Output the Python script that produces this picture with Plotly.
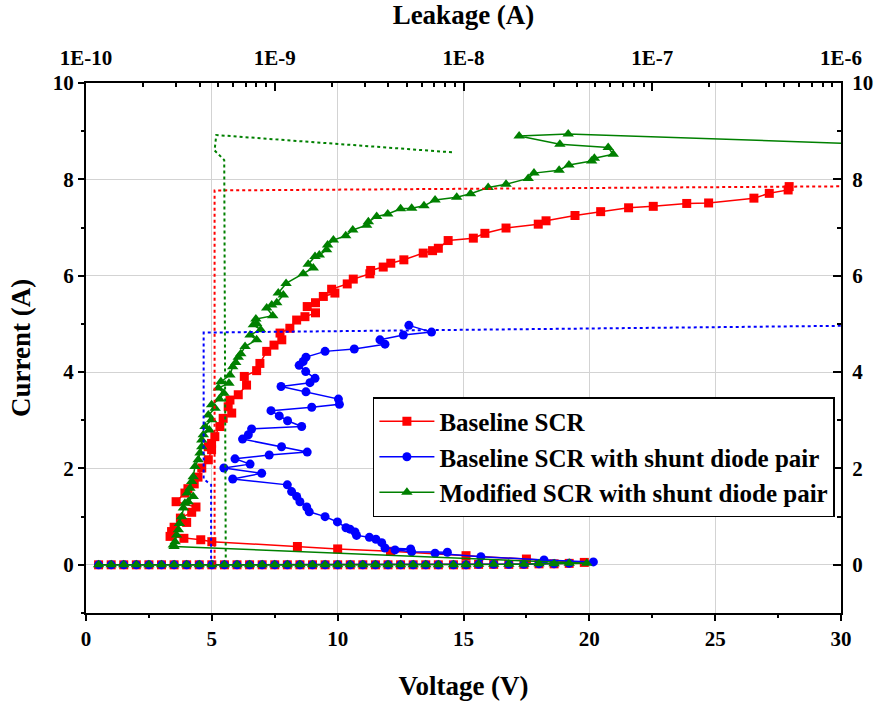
import plotly.graph_objects as go

# ---------------- data ----------------
# pulses before triggering (all three devices sit at ~0 A)
pre_trigger_v = [0.5, 1.0, 1.5, 2.0, 2.5, 3.0, 3.5, 4.0, 4.5, 5.0, 5.5, 6.0, 6.5, 7.0,
                 7.5, 8.0, 8.5, 9.0, 9.5, 10.0, 10.5, 11.0, 11.5, 12.0, 12.5, 13.0, 13.5,
                 14.0, 14.6, 15.1, 15.6, 16.2, 16.8, 17.4, 18.0, 18.6, 19.2]
pre_trigger_i = [0.0, 0.0, 0.0, 0.0, 0.0, 0.0, 0.0, 0.0, 0.0, 0.0, 0.0, 0.0, 0.0, 0.0,
                 0.0, 0.0, 0.0, 0.0, 0.0, 0.0, 0.0, 0.0, 0.0, 0.0, 0.0, 0.0, 0.0,
                 0.0, 0.0, 0.0, 0.01, 0.01, 0.01, 0.01, 0.02, 0.02, 0.03]

# Baseline SCR (after trigger)
red_v = [19.8, 17.5, 15.1, 12.1, 10.0, 8.4, 5.0, 4.56, 3.89, 3.34,
         3.40, 3.50, 4.00, 3.75, 4.20, 4.37, 3.58, 3.93, 4.05, 4.30,
         4.45, 4.60, 4.86, 4.99, 4.86, 4.99, 5.12, 5.32, 5.45, 5.79,
         5.65, 5.72, 6.05, 6.38, 6.29, 6.78, 6.91, 7.18, 7.47, 7.78,
         7.71, 8.10, 8.37, 8.70, 9.12, 8.79, 9.12, 9.43, 9.89, 9.76,
         10.38, 10.62, 11.28, 11.31, 11.81, 12.11, 12.63, 13.40, 13.77, 14.00,
         14.39, 15.39, 15.85, 16.69, 17.97, 18.28, 19.43, 20.45, 21.56, 22.54,
         23.87, 24.74, 26.54, 27.15, 27.90, 27.94]
red_i = [0.05, 0.12, 0.19, 0.28, 0.33, 0.38, 0.48, 0.52, 0.55, 0.59,
         0.69, 0.78, 0.88, 0.97, 1.09, 1.20, 1.31, 1.49, 1.58, 1.68,
         1.82, 2.01, 2.18, 2.39, 2.45, 2.52, 2.66, 2.87, 3.04, 3.15,
         3.28, 3.42, 3.53, 3.73, 3.91, 4.03, 4.18, 4.43, 4.56, 4.67,
         4.81, 4.91, 5.08, 5.15, 5.23, 5.36, 5.44, 5.57, 5.64, 5.72,
         5.83, 5.93, 6.04, 6.11, 6.18, 6.26, 6.33, 6.47, 6.52, 6.57,
         6.73, 6.78, 6.88, 6.99, 7.07, 7.14, 7.25, 7.33, 7.41, 7.44,
         7.50, 7.51, 7.61, 7.71, 7.78, 7.85]

# Baseline SCR with shunt diode pair (after trigger)
blue_v = [20.16, 18.2, 15.69, 13.87, 14.36, 12.94, 12.28, 12.90, 11.88, 11.75,
          11.52, 11.26, 10.75, 10.69, 10.49, 10.33, 9.99, 9.50, 8.87, 8.77,
          8.50, 8.37, 8.17, 8.00, 5.83, 6.98, 5.48, 6.52, 5.92, 7.28,
          8.79, 7.77, 6.22, 6.45, 6.58, 8.57, 8.01, 7.68, 7.35, 8.97,
          10.07, 10.03, 8.74, 7.75, 8.90, 9.10, 8.73, 8.47, 8.63, 8.74,
          9.50, 10.66, 11.88, 11.68, 12.61, 13.73, 12.83]
blue_i = [0.06, 0.10, 0.17, 0.24, 0.26, 0.27, 0.31, 0.33, 0.35, 0.46,
          0.53, 0.57, 0.61, 0.68, 0.74, 0.77, 0.89, 1.00, 1.10, 1.20,
          1.31, 1.42, 1.52, 1.66, 1.78, 1.90, 2.01, 2.09, 2.20, 2.28,
          2.34, 2.45, 2.61, 2.70, 2.82, 2.87, 2.99, 3.09, 3.20, 3.27,
          3.33, 3.44, 3.59, 3.70, 3.78, 3.87, 4.01, 4.14, 4.22, 4.31,
          4.43, 4.48, 4.58, 4.67, 4.77, 4.83, 4.97]

# Modified SCR with shunt diode pair (after trigger)
green_v = [19.9, 3.50, 3.47, 3.54, 3.60, 3.67, 3.71, 3.80, 3.87, 3.93,
           4.06, 4.26, 4.02, 4.13, 4.20, 4.26, 4.33, 4.46, 4.53, 4.60,
           4.60, 4.66, 4.90, 4.73, 4.99, 4.86, 5.13, 4.99, 5.30, 5.48,
           5.26, 5.68, 5.36, 5.72, 5.83, 5.95, 6.05, 6.15, 6.32, 6.78,
           6.52, 6.94, 6.65, 6.78, 6.75, 7.42, 7.18, 7.38, 7.58, 7.84,
           7.64, 7.95, 8.63, 9.03, 8.83, 9.10, 9.27, 9.56, 9.60, 9.83,
           10.32, 10.60, 11.15, 11.22, 11.55, 11.99, 12.50, 12.94, 13.43, 13.87,
           14.73, 15.28, 15.98, 16.69, 17.57, 17.80, 18.80, 19.19, 20.09, 20.20,
           20.95, 20.75, 18.83, 17.21, 19.16, 33.0]
green_i = [0.03, 0.38, 0.41, 0.48, 0.62, 0.73, 0.86, 1.00, 1.18, 1.28,
           1.31, 1.42, 1.49, 1.59, 1.73, 1.83, 2.04, 2.18, 2.32, 2.45,
           2.59, 2.70, 2.80, 2.87, 3.01, 3.11, 3.25, 3.32, 3.44, 3.56,
           3.67, 3.77, 3.80, 3.94, 4.11, 4.20, 4.31, 4.38, 4.53, 4.67,
           4.77, 4.88, 4.98, 5.01, 5.10, 5.17, 5.33, 5.39, 5.44, 5.60,
           5.64, 5.84, 6.04, 6.16, 6.24, 6.40, 6.43, 6.54, 6.64, 6.74,
           6.83, 6.95, 7.05, 7.12, 7.23, 7.28, 7.39, 7.40, 7.45, 7.57,
           7.63, 7.70, 7.83, 7.90, 8.02, 8.13, 8.19, 8.30, 8.38, 8.44,
           8.52, 8.66, 8.73, 8.90, 8.94, 8.70]

# Leakage after each pulse (top log axis)
red_leak = [4.8e-10, 4.8e-10, 1.5e-6]
red_leak_i = [0.0, 7.77, 7.86]
blue_leak = [4.6e-10, 4.6e-10, 4.2e-10, 4.2e-10, 3e-6]
blue_leak_i = [0.0, 1.66, 1.78, 4.82, 4.98]
green_leak = [5.5e-10, 5.4e-10, 4.8e-10, 4.9e-10, 8.8e-9]
green_leak_i = [0.15, 8.40, 8.60, 8.92, 8.56]

leak_tickvals = [1e-10, 1e-9, 1e-8, 1e-7, 1e-6]
leak_ticktext = ["1E-10", "1E-9", "1E-8", "1E-7", "1E-6"]
leak_minor = [1e-10, 1e-9, 1e-8, 1e-7]
minor_mult = [2, 3, 4, 5, 6, 7, 8, 9]

series_names = ["Baseline SCR",
                "Baseline SCR with shunt diode pair",
                "Modified SCR with shunt diode pair"]

assert len(red_v) == len(red_i)
assert len(blue_v) == len(blue_i)
assert len(green_v) == len(green_i)

# ---------------- figure ----------------
FONT = "Liberation Serif"
RED, BLUE, GREEN = "#FF0000", "#0000FF", "#008000"

fig = go.Figure()

iv = [
    (series_names[0], red_v, red_i, RED, "square", 9),
    (series_names[1], blue_v, blue_i, BLUE, "circle", 9),
    (series_names[2], green_v, green_i, GREEN, "triangle-up", 10),
]
for name, v, i, col, sym, sz in iv:
    fig.add_trace(go.Scatter(
        x=pre_trigger_v + v, y=pre_trigger_i + i, name=name,
        mode="lines+markers", xaxis="x", yaxis="y",
        line=dict(color=col, width=1.5),
        marker=dict(symbol=sym, size=sz, color=col, line=dict(width=0)),
    ))

for lx, ly, col in [(red_leak, red_leak_i, RED), (blue_leak, blue_leak_i, BLUE),
                    (green_leak, green_leak_i, GREEN)]:
    fig.add_trace(go.Scatter(
        x=lx, y=ly, mode="lines", xaxis="x2", yaxis="y", showlegend=False,
        line=dict(color=col, width=2, dash="dot"),
    ))

# dummy trace to make the right-hand axis render
fig.add_trace(go.Scatter(x=[None], y=[None], xaxis="x", yaxis="y2",
                         showlegend=False, hoverinfo="skip"))

minor_vals = [m * d for d in leak_minor for m in minor_mult]

tickfont = dict(family=FONT, size=21, color="black", weight="bold")
titlefont = dict(family=FONT, size=27, color="black", weight="bold")

fig.update_layout(
    width=878, height=703,
    margin=dict(l=86, r=37, t=83, b=90, autoexpand=False),
    paper_bgcolor="white", plot_bgcolor="white",
    font=dict(family=FONT, color="black"),
    xaxis=dict(
        range=[0, 30], tick0=0, dtick=5, showgrid=True, gridcolor="#d3d3d3", gridwidth=1,
        zeroline=False, showline=True, linecolor="black", linewidth=2, automargin=False,
        ticks="outside", ticklen=6, tickwidth=2, tickcolor="black",
        minor=dict(ticks="outside", dtick=2.5, ticklen=3, tickwidth=1.5, tickcolor="black", showgrid=False),
        tickfont=tickfont,
        title=dict(text="Voltage (V)", font=titlefont, standoff=26),
    ),
    xaxis2=dict(
        type="log", range=[-10, -6], overlaying="x", side="top", anchor="y",
        tickmode="array", tickvals=leak_tickvals, ticktext=leak_ticktext,
        showgrid=False, zeroline=False, showline=True, linecolor="black", linewidth=2,
        automargin=False,
        ticks="inside", ticklen=8, tickwidth=2, tickcolor="black",
        minor=dict(tickmode="array", tickvals=minor_vals, ticks="inside", ticklen=4,
                   tickwidth=1.5, tickcolor="black", showgrid=False),
        tickfont=tickfont, ticklabelstandoff=8,
        title=dict(text="Leakage (A)", font=titlefont, standoff=14),
    ),
    yaxis=dict(
        range=[-1, 10], tick0=0, dtick=2, showgrid=True, gridcolor="#d3d3d3", gridwidth=1,
        zeroline=False, showline=True, linecolor="black", linewidth=2, automargin=False,
        ticks="outside", ticklen=6, tickwidth=2, tickcolor="black",
        minor=dict(ticks="outside", dtick=1, ticklen=3, tickwidth=1.5, tickcolor="black", showgrid=False),
        tickfont=tickfont,
        title=dict(text="Current (A)", font=titlefont, standoff=14),
    ),
    yaxis2=dict(
        range=[-1, 10], tick0=0, dtick=2, overlaying="y", side="right", anchor="x",
        showgrid=False, zeroline=False, showline=True, linecolor="black", linewidth=2,
        automargin=False,
        ticks="inside", ticklen=8, tickwidth=2, tickcolor="black",
        minor=dict(ticks="inside", dtick=1, ticklen=4, tickwidth=1.5, tickcolor="black", showgrid=False),
        tickfont=tickfont, ticklabelstandoff=5,
    ),
    legend=dict(
        x=0.380, y=0.4075, xanchor="left", yanchor="top",
        bgcolor="white", bordercolor="black", borderwidth=1.5,
        font=dict(family=FONT, size=25, color="black", weight="bold"),
        tracegroupgap=0, itemsizing="trace", itemwidth=55,
    ),
    showlegend=True,
)

fig.write_html("out.html")
